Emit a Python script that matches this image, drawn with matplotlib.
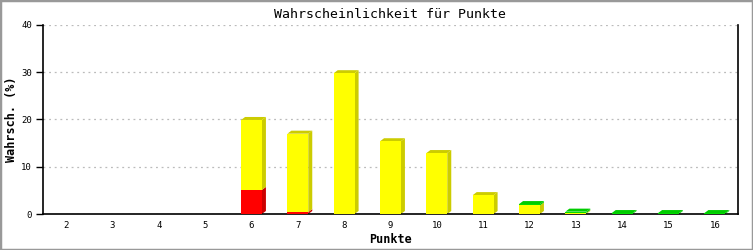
import numpy as np
import matplotlib.pyplot as plt
from matplotlib.patches import Polygon, Rectangle

# Wahrscheinlichkeit pro Punktzahl, gestapelt: rot / gelb / gruen
punkte = list(range(2, 17))
rot = [0, 0, 0, 0, 5.1, 0.4, 0, 0, 0, 0, 0, 0, 0, 0, 0]
gelb = [0, 0, 0, 0, 14.8, 16.6, 29.8, 15.4, 12.9, 4.0, 1.8, 0.2, 0, 0, 0]
gruen = [0, 0, 0, 0, 0, 0, 0, 0, 0, 0, 0.3, 0.3, 0.2, 0.2, 0.2]

serien = [(rot, '#ff0000', '#cc0000'),
          (gelb, '#ffff00', '#cccc00'),
          (gruen, '#00dd00', '#00cc00')]

fig = plt.figure(figsize=(7.53, 2.5), dpi=100)
ax = fig.add_axes([43/753, 36/250, 695/753, 189/250])
ax.set_xlim(1.5, 16.5)
ax.set_ylim(0, 40)

# 3D depth: 4 px right, 3 px up -> data units
bbox = ax.get_window_extent()
dx = 4 * 15 / bbox.width
dy = 3 * 40 / bbox.height
w = 0.45

for i, x in enumerate(punkte):
    bottom = 0.0
    segs = [(s[i], c, d) for s, c, d in serien if s[i] > 0]
    for k, (h, c, d) in enumerate(segs):
        top = bottom + h
        ax.add_patch(Rectangle((x - w/2, bottom), w, h, facecolor=c,
                               edgecolor='none', zorder=3))
        side = [(x + w/2, bottom), (x + w/2 + dx, bottom + dy),
                (x + w/2 + dx, top + dy), (x + w/2, top)]
        ax.add_patch(Polygon(side, facecolor=d, edgecolor='none', zorder=2))
        if k == len(segs) - 1:
            cap = [(x - w/2, top), (x - w/2 + dx, top + dy),
                   (x + w/2 + dx, top + dy), (x + w/2, top)]
            ax.add_patch(Polygon(cap, facecolor=d, edgecolor='none', zorder=2))
        bottom = top

mono = 'DejaVu Sans Mono'
ax.set_xticks(punkte)
ax.set_xticklabels([str(p) for p in punkte], fontsize=6.5, family=mono)
ax.set_yticks([0, 10, 20, 30, 40])
ax.set_yticklabels(['0', '10', '20', '30', '40'], fontsize=6.5, family=mono)
ax.tick_params(axis='x', length=0, pad=5)
ax.tick_params(axis='y', length=5, width=1, pad=3)
ax.yaxis.grid(True, linestyle=(0, (1.5, 3)), color='#bbbbbb', linewidth=0.9)
ax.set_axisbelow(True)
ax.spines['top'].set_visible(False)
for s in ['left', 'right', 'bottom']:
    ax.spines[s].set_linewidth(1.2)

ax.set_title('Wahrscheinlichkeit für Punkte', family=mono, fontsize=9.5, pad=5)
ax.set_xlabel('Punkte', family=mono, fontsize=8.5, fontweight='bold', labelpad=2)
ax.set_ylabel('Wahrsch. (%)', family=mono, fontsize=8.5, fontweight='bold', labelpad=2)

fig.patches.append(Rectangle((0, 0), 1, 1, transform=fig.transFigure,
                             fill=False, edgecolor='#999999', linewidth=2.5))

fig.savefig('out.png', dpi=100)
